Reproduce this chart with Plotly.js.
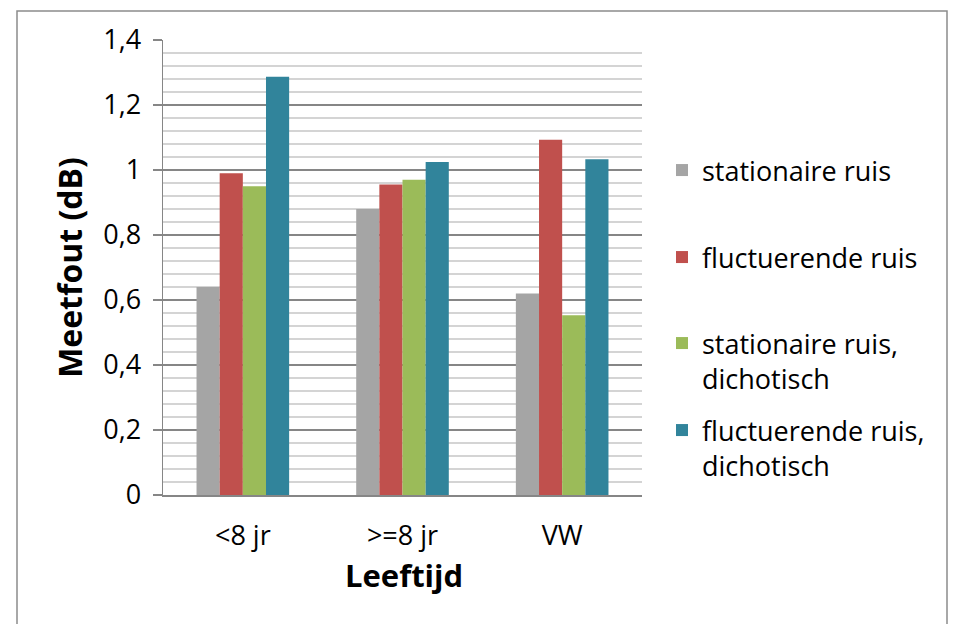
<!DOCTYPE html>
<html>
<head>
<meta charset="utf-8">
<script src="https://cdn.plot.ly/plotly-3.0.1.min.js"></script>
<style>
html,body{margin:0;padding:0;background:#fff;}
#chart{width:964px;height:624px;}
</style>
</head>
<body>
<div id="chart"></div>
<script>
var categories = ["<8 jr", ">=8 jr", "VW"];
var seriesNames = ["stationaire ruis", "fluctuerende ruis", "stationaire ruis,<br>dichotisch", "fluctuerende ruis,<br>dichotisch"];
var stationaire = [0.64, 0.88, 0.62];
var fluctuerende = [0.99, 0.955, 1.093];
var stationaireDich = [0.95, 0.97, 0.553];
var fluctuerendeDich = [1.287, 1.025, 1.033];
var colors = ["#A5A5A5", "#C0504D", "#9BBB59", "#31849B"];
var yTickVals = [0, 0.2, 0.4, 0.6, 0.8, 1, 1.2, 1.4];
var yTickText = ["0", "0,2", "0,4", "0,6", "0,8", "1", "1,2", "1,4"];
var xTitle = "Leeftijd";
var yTitle = "Meetfout (dB)";

var FONT = "'Open Sans', sans-serif";
var values = [stationaire, fluctuerende, stationaireDich, fluctuerendeDich];
var legendIds = ["legend", "legend2", "legend3", "legend4"];
var traces = values.map(function (v, i) {
  return {
    type: "bar",
    x: categories,
    y: v,
    name: seriesNames[i],
    marker: {color: colors[i]},
    legend: legendIds[i],
    hoverinfo: "skip"
  };
});

// plot area: x 163..642, y 40..495
var L = 163, R = 642, T = 40, B = 495;
function py(p) { return (B - p) / (B - T); }
function px(p) { return (p - L) / (R - L); }

var legendBase = {
  x: px(662), xanchor: "left", yanchor: "top",
  font: {family: FONT, size: 27, color: "#000"},
  bgcolor: "rgba(0,0,0,0)", borderwidth: 0,
  valign: "top", itemclick: false, itemdoubleclick: false
};
function lg(top) { return Object.assign({}, legendBase, {y: py(top)}); }

var layout = {
  width: 964, height: 624,
  margin: {l: L, r: 964 - R, t: T, b: 624 - B, pad: 0},
  paper_bgcolor: "#fff", plot_bgcolor: "#fff",
  font: {family: FONT, size: 27, color: "#000"},
  barmode: "group", bargap: 0.42, bargroupgap: 0,
  showlegend: true,
  legend: lg(146), legend2: lg(233), legend3: lg(319), legend4: lg(406),
  xaxis: {
    type: "category",
    showline: true, linecolor: "#868686", linewidth: 1.5,
    ticks: "", showgrid: false, zeroline: false,
    tickfont: {family: FONT, size: 27},
    ticklabelstandoff: 16
  },
  yaxis: {
    range: [0, 1.4], autorange: false,
    tickvals: yTickVals, ticktext: yTickText,
    ticks: "outside", ticklen: 9, tickcolor: "#868686", tickwidth: 1.5,
    showline: true, linecolor: "#868686", linewidth: 1.5,
    showgrid: true, gridcolor: "#868686", gridwidth: 1.5,
    zeroline: false,
    minor: {dtick: 0.04, tick0: 0, showgrid: true, gridcolor: "#D4D4D4", gridwidth: 1.5, ticks: ""},
    tickfont: {family: FONT, size: 27},
    ticklabelstandoff: 6,
    title: {text: "<b>" + yTitle + "</b>", font: {family: FONT, size: 32}, standoff: 11}
  },
  annotations: [{
    text: "<b>" + xTitle + "</b>", xref: "paper", yref: "paper",
    x: px(404), y: py(575), xanchor: "center", yanchor: "middle",
    showarrow: false, font: {family: FONT, size: 31, color: "#000"}
  }],
  shapes: [{
    type: "rect", xref: "paper", yref: "paper",
    x0: px(17), x1: px(947), y0: py(650), y1: py(11),
    line: {color: "#8C8C8C", width: 1.5}, fillcolor: "rgba(0,0,0,0)", layer: "below"
  }]
};

Plotly.newPlot("chart", traces, layout, {displayModeBar: false, staticPlot: true});
</script>
</body>
</html>
